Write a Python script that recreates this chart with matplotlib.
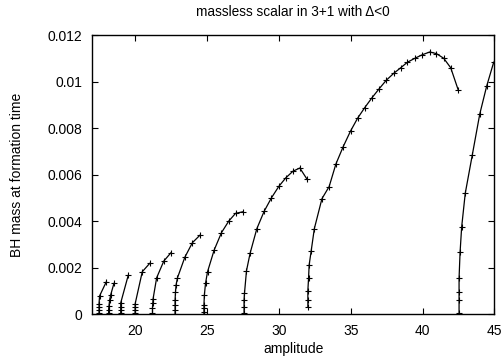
import numpy as np
import matplotlib
matplotlib.use('Agg')
import matplotlib.pyplot as plt

plt.rcParams['font.family'] = ['Liberation Sans', 'DejaVu Sans']

# one branch of the mass curve per amplitude window
amp1 = [17.49, 17.49, 17.49, 17.49, 17.53, 18.00]
mass1 = [0.00005, 0.00018, 0.00030, 0.00045, 0.00078, 0.00139]

amp2 = [18.16, 18.16, 18.18, 18.23, 18.30, 18.53]
mass2 = [0.00005, 0.00019, 0.00034, 0.00060, 0.00082, 0.00132]

amp3 = [19.00, 19.00, 19.00, 19.00, 19.52]
mass3 = [0.00005, 0.00017, 0.00031, 0.00048, 0.00166]

amp4 = [20.00, 20.00, 20.00, 20.00, 20.50, 21.02]
mass4 = [0.00005, 0.00017, 0.00031, 0.00043, 0.00182, 0.00218]

amp5 = [21.21, 21.21, 21.23, 21.25, 21.50, 22.00, 22.50]
mass5 = [0.00003, 0.00025, 0.00046, 0.00065, 0.00156, 0.00228, 0.00264]

amp6 = [22.78, 22.78, 22.78, 22.78, 22.81, 22.85, 22.95, 23.46, 23.99, 24.53]
mass6 = [0.0, 0.00017, 0.00039, 0.00060, 0.00093, 0.00125, 0.00156, 0.00244, 0.00307, 0.00340]

amp7 = [24.79, 24.79, 24.79, 24.79, 24.82, 24.90, 25.04, 25.50, 26.01, 26.52, 26.99, 27.52]
mass7 = [0.0, 0.00010, 0.00025, 0.00039, 0.00082, 0.00132, 0.00182, 0.00275, 0.00350, 0.00400, 0.00433, 0.00440]

amp8 = [27.58, 27.58, 27.58, 27.61, 27.75, 28.00, 28.47, 28.98, 29.49, 30.00, 30.49, 30.98, 31.46, 31.97]
mass8 = [0.00006, 0.00031, 0.00060, 0.00089, 0.00186, 0.00261, 0.00367, 0.00442, 0.00500, 0.00549,
         0.00586, 0.00614, 0.00628, 0.00579]

amp9 = [32.02, 32.02, 32.02, 32.07, 32.11, 32.25, 32.47, 33.00, 33.50, 33.97, 34.48, 34.99, 35.48,
        35.97, 36.48, 36.97, 37.47, 37.99, 38.48, 38.95, 39.47, 39.98, 40.50, 40.96, 41.47, 41.96, 42.49]
mass9 = [0.00029, 0.00060, 0.00101, 0.00156, 0.00211, 0.00271, 0.00367, 0.00496, 0.00548, 0.00645,
         0.00720, 0.00787, 0.00842, 0.00887, 0.00930, 0.00968, 0.01005, 0.01035, 0.01059, 0.01083,
         0.01100, 0.01115, 0.01127, 0.01120, 0.01100, 0.01059, 0.00962]

amp10 = [42.54, 42.54, 42.54, 42.54, 42.61, 42.72, 42.97, 43.46, 43.98, 44.46, 44.95]
mass10 = [0.00006, 0.00062, 0.00096, 0.00155, 0.00265, 0.00374, 0.00519, 0.00684, 0.00860, 0.00980, 0.01083]

branches = [(amp1, mass1), (amp2, mass2), (amp3, mass3), (amp4, mass4), (amp5, mass5),
            (amp6, mass6), (amp7, mass7), (amp8, mass8), (amp9, mass9), (amp10, mass10)]

xticks = [20, 25, 30, 35, 40, 45]
yticks = [0, 0.002, 0.004, 0.006, 0.008, 0.01, 0.012]
ytick_labels = ['0', '0.002', '0.004', '0.006', '0.008', '0.01', '0.012']

fig = plt.figure(figsize=(5.04, 3.59), dpi=100)
ax = fig.add_axes([0.1825, 0.1253, 0.7985, 0.7772])

for a, m in branches:
    ax.plot(a, m, color='black', lw=0.9, marker='+', ms=4, mew=0.8)

ax.set_xlim(17, 45)
ax.set_ylim(0, 0.012)
ax.set_xticks(xticks)
ax.set_yticks(yticks)
ax.set_yticklabels(ytick_labels)
ax.tick_params(direction='in', length=4, width=0.8, top=True, right=True, labelsize=10)
ax.tick_params(axis='y', pad=7)
ax.tick_params(axis='x', pad=7)
for s in ax.spines.values():
    s.set_linewidth(1.0)

ax.set_xlabel('amplitude', fontsize=10, labelpad=3)
ax.set_ylabel('BH mass at formation time', fontsize=10, labelpad=17)
ax.set_title('massless scalar in 3+1 with \u0394<0', fontsize=9.8, pad=14)

fig.savefig('out.png', dpi=100)
